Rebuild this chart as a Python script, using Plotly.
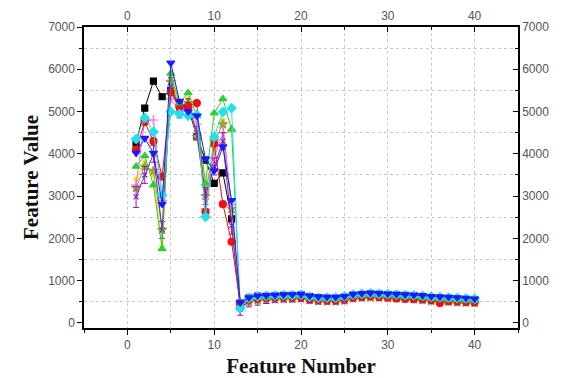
import plotly.graph_objects as go

features = list(range(1, 41))

black = [4250, 5080, 5720, 5350, 5500, 5200, 5100, 4400, 3850, 3300, 3550, 2460, 470,
         580, 610, 630, 640, 650, 650, 660, 620, 600, 590, 590, 610, 650, 670, 680, 680, 670,
         660, 650, 640, 620, 600, 590, 580, 570, 560, 550]
red = [4100, 4750, 4300, 3460, 5450, 5100, 5130, 5200, 2630, 4230, 2810, 1920, 450,
       540, 570, 590, 600, 610, 600, 610, 560, 540, 530, 530, 560, 600, 620, 630, 620, 600,
       580, 570, 560, 560, 540, 470, 520, 510, 500, 490]
blue = [4020, 4370, 4020, 2810, 6150, 5250, 5000, 4900, 3880, 3600, 4170, 2900, 480,
        600, 640, 650, 660, 670, 670, 680, 640, 620, 610, 610, 630, 680, 700, 710, 700, 690,
        680, 670, 660, 650, 630, 620, 610, 600, 590, 570]
green = [3700, 3950, 3260, 1750, 5900, 5200, 5440, 4900, 3300, 4960, 5300, 4580, 400,
         560, 600, 610, 620, 630, 630, 640, 600, 580, 570, 570, 600, 640, 660, 670, 660, 650,
         640, 630, 620, 600, 580, 570, 560, 550, 540, 530]
cyan = [4350, 4850, 4520, 3020, 5000, 4940, 4900, 4920, 2510, 4400, 4990, 5080, 350,
        590, 630, 640, 650, 660, 660, 670, 620, 600, 600, 600, 630, 670, 690, 700, 690, 680,
        670, 660, 650, 640, 620, 610, 600, 590, 580, 570]
pink = [3260, 4800, 4800, 2900, 5300, 5000, 5100, 4700, 2700, 3900, 4500, 2800, 300,
        520, 560, 570, 580, 590, 590, 600, 560, 540, 540, 540, 560, 600, 620, 630, 620, 610,
        600, 590, 580, 560, 540, 530, 520, 510, 500, 490]
olive = [3190, 3700, 3600, 2200, 5700, 5100, 5200, 4400, 3000, 4300, 4700, 2700, 420,
         500, 540, 550, 560, 570, 570, 580, 540, 520, 510, 510, 530, 580, 600, 610, 600, 590,
         580, 570, 560, 540, 520, 510, 500, 490, 480, 470]
purple = [2980, 3500, 4000, 2200, 5600, 5000, 5150, 4500, 3000, 3700, 4300, 2300, 330,
          530, 570, 580, 590, 600, 600, 610, 570, 550, 550, 550, 570, 620, 640, 650, 640, 630,
          620, 610, 600, 580, 560, 550, 540, 530, 520, 510]
purple_err = [250, 200, 200, 200, 200, 150, 150, 150, 200, 200, 200, 200, 150,
              150, 150, 120, 100, 100, 100, 100, 100, 100, 100, 100, 100, 100, 100, 100, 100, 100,
              100, 100, 100, 100, 100, 100, 100, 100, 100, 100]
yellow = [3400, 3800, 3500, 1800, 5800, 5150, 5300, 4600, 3200, 4100, 4800, 2600, 380,
          480, 520, 530, 540, 550, 550, 560, 520, 500, 490, 490, 510, 560, 580, 590, 580, 570,
          560, 550, 540, 520, 500, 480, 470, 460, 450, 440]

series = [
    ("black", black, "#000000", "square", 6),
    ("yellow", yellow, "#e6e600", "circle", 4),
    ("olive", olive, "#a0a040", "star", 7),
    ("pink", pink, "#ff66ff", "cross-thin", 7),
    ("purple", purple, "#8020c0", "x-thin", 5),
    ("red", red, "#ee1111", "circle", 7),
    ("green", green, "#33cc33", "triangle-up", 7),
    ("cyan", cyan, "#22e0ee", "diamond", 7),
    ("blue", blue, "#1a1aff", "triangle-down", 7),
]

fig = go.Figure()
for name, vals, color, sym, size in series:
    kw = {}
    if name == "purple":
        kw["error_y"] = dict(type="data", array=purple_err, color=color, thickness=1, width=3)
    fig.add_trace(go.Scatter(
        x=features, y=vals, mode="lines+markers", name=name,
        line=dict(color=color, width=1),
        marker=dict(symbol=sym, size=size, color=color,
                    line=dict(color=color, width=1.2)),
        showlegend=False, **kw))

# empty trace so the mirrored top/right axes are drawn
fig.add_trace(go.Scatter(x=[], y=[], xaxis="x2", yaxis="y2", showlegend=False,
                         hoverinfo="skip"))

tickfont = dict(family="Liberation Sans, Arial", size=12, color="#555555")
titlefont = dict(family="Liberation Serif, Times New Roman", size=21, color="#111111")

fig.update_layout(
    width=553, height=370,
    margin=dict(l=76, r=43, t=19, b=50),
    paper_bgcolor="white", plot_bgcolor="white",
    xaxis=dict(range=[-5, 45], tickvals=[0, 10, 20, 30, 40], showline=True,
               linecolor="black", linewidth=1.5, ticks="outside", ticklen=5,
               tickcolor="black", tickfont=tickfont, zeroline=False, automargin=False,
               showgrid=True, gridcolor="#c8c8c8", griddash="dot", gridwidth=1,
               minor=dict(dtick=5, tick0=0, ticks="outside", ticklen=3, tickcolor="black",
                          showgrid=True, gridcolor="#c8c8c8", griddash="dot"),
               title=dict(text="<b>Feature Number</b>", font=titlefont, standoff=7)),
    xaxis2=dict(range=[-5, 45], tickvals=[0, 10, 20, 30, 40], overlaying="x", side="top",
                anchor="y", showline=True, linecolor="black", linewidth=1.5,
                ticks="inside", ticklen=5, tickcolor="black", tickfont=tickfont,
                zeroline=False, showgrid=False, automargin=False,
                minor=dict(dtick=5, tick0=0, ticks="inside", ticklen=3, tickcolor="black",
                           showgrid=False)),
    yaxis=dict(range=[-120, 7000], dtick=1000, tick0=0, showline=True, linecolor="black",
               linewidth=1.5, ticks="outside", ticklen=5, tickcolor="black",
               tickfont=tickfont, zeroline=False, showgrid=False, automargin=False,
               minor=dict(dtick=500, tick0=0, ticks="outside", ticklen=3, tickcolor="black",
                          showgrid=True, gridcolor="#c8c8c8", griddash="dot"),
               title=dict(text="<b>Feature Value</b>", font=titlefont, standoff=4)),
    yaxis2=dict(range=[-120, 7000], dtick=1000, tick0=0, overlaying="y", side="right",
                anchor="x", showline=True, linecolor="black", linewidth=1.5,
                ticks="inside", ticklen=5, tickcolor="black", tickfont=tickfont,
                zeroline=False, showgrid=False, automargin=False,
                minor=dict(dtick=500, tick0=0, ticks="inside", ticklen=3, tickcolor="black",
                           showgrid=False)),
)

fig.write_html("out.html")
